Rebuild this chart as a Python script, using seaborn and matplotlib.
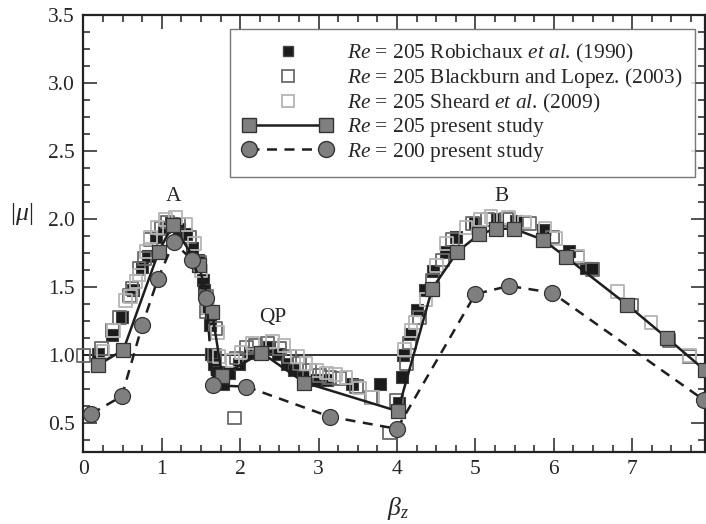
import numpy as np
import matplotlib
matplotlib.use("Agg")
import matplotlib.pyplot as plt
import seaborn as sns
from matplotlib.ticker import MultipleLocator
from matplotlib.legend_handler import HandlerLine2D
from matplotlib.lines import Line2D

# ---------------- data ----------------
rob_x = [0.19,0.37,0.49,0.63,0.75,0.82,0.93,1.03,1.12,1.22,1.31,1.39,1.46,1.52,1.54,1.58,1.61,1.63,1.67,1.72,
         1.77,1.78,1.86,1.99,2.12,2.37,2.48,2.60,2.69,2.80,2.97,3.11,3.43,3.79,4.03,4.07,4.08,4.17,4.26,4.36,
         4.46,4.63,4.75,5.0,5.28,5.52,5.86,6.2,6.41,6.49,6.94,7.44]
rob_y = [1.01,1.15,1.28,1.48,1.65,1.73,1.87,1.94,1.97,1.93,1.89,1.79,1.70,1.55,1.48,1.35,1.22,1.01,0.94,0.88,
         0.80,0.79,0.87,0.94,1.02,1.06,1.01,0.94,0.89,0.84,0.82,0.82,0.79,0.79,0.65,0.84,1.0,1.16,1.33,1.48,
         1.62,1.76,1.87,1.97,2.0,1.99,1.92,1.77,1.64,1.64,1.38,1.13]

bl_x = [0.0,0.23,0.37,0.46,0.59,0.62,0.71,0.78,0.86,1.0,1.07,1.21,1.35,1.48,1.57,1.57,1.69,1.67,1.93,1.95,
        2.08,2.2,2.35,2.5,2.63,2.76,2.88,3.01,3.14,3.27,3.48,3.67,3.9,3.99,4.12,4.16,4.29,4.45,4.58,4.71,
        4.96,5.16,5.4,5.69,5.98,6.3,6.49,6.99,7.47,7.73]
bl_y = [1.0,1.05,1.18,1.28,1.44,1.49,1.64,1.71,1.85,1.93,1.98,1.96,1.87,1.68,1.43,1.32,1.2,1.0,0.54,0.98,
        1.06,1.07,1.09,1.05,0.99,0.94,0.89,0.85,0.84,0.83,0.77,0.69,0.43,0.67,0.94,1.09,1.28,1.55,1.70,1.85,
        1.97,2.0,2.0,1.97,1.87,1.72,1.63,1.37,1.11,0.99]

sh_x = [0.25,0.38,0.54,0.60,0.67,0.71,0.80,0.86,0.94,1.05,1.18,1.31,1.42,1.50,1.59,1.71,1.73,1.90,2.01,2.16,
        2.41,2.56,2.73,2.84,2.97,3.10,3.22,3.35,3.52,3.69,4.10,4.18,4.23,4.37,4.50,4.63,4.88,5.07,5.20,5.42,
        5.63,5.89,6.03,6.30,6.81,7.24,7.73]
sh_y = [1.03,1.18,1.40,1.43,1.54,1.59,1.76,1.87,1.94,2.0,2.01,1.96,1.82,1.62,1.35,1.17,0.99,0.96,1.02,1.09,
        1.10,1.07,0.99,0.94,0.89,0.87,0.86,0.84,0.76,0.69,1.04,1.18,1.24,1.41,1.66,1.82,1.94,2.0,2.02,2.01,
        1.98,1.93,1.86,1.73,1.47,1.24,1.0]

p205_x = [0.19,0.51,0.96,1.14,1.47,1.64,1.77,2.27,2.82,4.01,4.45,4.77,5.05,5.27,5.49,5.86,6.16,6.94,7.44,7.93]
p205_y = [0.93,1.04,1.76,1.96,1.66,1.32,0.85,1.02,0.80,0.59,1.49,1.76,1.89,1.93,1.93,1.85,1.72,1.37,1.13,0.89]

p200_x = [0.10,0.49,0.75,0.95,1.15,1.39,1.57,1.65,2.08,3.14,4.0,5.0,5.43,5.98,7.92]
p200_y = [0.57,0.70,1.22,1.56,1.83,1.70,1.42,0.78,0.77,0.55,0.46,1.45,1.51,1.46,0.67]

labels = [r"$Re$ = 205 Robichaux $et\ al$. (1990)",
          r"$Re$ = 205 Blackburn and Lopez. (2003)",
          r"$Re$ = 205 Sheard $et\ al$. (2009)",
          r"$Re$ = 205 present study",
          r"$Re$ = 200 present study"]
xticks = [0, 1, 2, 3, 4, 5, 6, 7]
yticks = [0.5, 1.0, 1.5, 2.0, 2.5, 3.0, 3.5]

# ---------------- style ----------------
sns.set_style("ticks")
plt.rcParams["font.family"] = ["Liberation Serif", "DejaVu Serif"]
plt.rcParams["mathtext.fontset"] = "custom"
plt.rcParams["mathtext.rm"] = "Liberation Serif"
plt.rcParams["mathtext.it"] = "Liberation Serif:italic"
plt.rcParams["mathtext.bf"] = "Liberation Serif:bold"
FS = 15.4
TFS = 15.5

fig = plt.figure(figsize=(7.06, 5.24), dpi=100)
ax = fig.add_axes([83/706, 1-452/524, 622/706, 437/524])

ax.axhline(1.0, color="#222222", lw=1.3, zorder=1)

sns.scatterplot(x=rob_x, y=rob_y, marker="s", s=70, color="#1b1b1b",
                edgecolor="#444444", linewidth=0.8, ax=ax, zorder=3)
sns.scatterplot(x=bl_x, y=bl_y, marker="s", s=85, facecolors="none",
                edgecolor="#6a6a6a", linewidth=1.3, ax=ax, zorder=3, clip_on=False)
sns.scatterplot(x=sh_x, y=sh_y, marker="s", s=85, facecolors="none",
                edgecolor="#b4b4b4", linewidth=1.3, ax=ax, zorder=3)

sns.lineplot(x=p205_x, y=p205_y, sort=False, estimator=None, color="#1e1e1e", lw=1.8,
             marker="s", markersize=9.5, markerfacecolor="#7f7f7f", markeredgecolor="#333333",
             markeredgewidth=0.9, ax=ax, zorder=4)
sns.lineplot(x=p200_x, y=p200_y, sort=False, estimator=None, color="#1e1e1e", lw=1.8,
             linestyle=(0, (4, 3)),
             marker="o", markersize=11.5, markerfacecolor="#7f7f7f", markeredgecolor="#333333",
             markeredgewidth=0.9, ax=ax, zorder=5)

ax.set_xlim(-0.005, 7.93)
ax.set_ylim(0.29, 3.5)
ax.set_xticks(xticks)
ax.set_yticks(yticks)
ax.set_yticklabels([f"{v:.1f}" for v in yticks])
ax.xaxis.set_minor_locator(MultipleLocator(0.25))
ax.yaxis.set_minor_locator(MultipleLocator(0.125))
ax.tick_params(which="both", direction="in", top=True, right=True, labelsize=TFS, width=1.1, color="#222222")
ax.tick_params(which="major", length=10, pad=6)
ax.tick_params(which="minor", length=5)
for sp in ax.spines.values():
    sp.set_linewidth(1.6)
    sp.set_color("#222222")

ax.text(8, 0.29 - 0.075, "8", ha="center", va="top", fontsize=TFS, clip_on=False)

ax.set_xlabel(r"$\beta_z$", fontsize=TFS + 3)
ax.xaxis.set_label_coords(0.506, -0.098)
ax.set_ylabel(r"$|\mu|$", fontsize=TFS + 3, rotation=0)
ax.yaxis.set_label_coords(-0.098, 0.515)

ax.text(1.15, 2.17, "A", ha="center", va="center", fontsize=FS)
ax.text(5.33, 2.17, "B", ha="center", va="center", fontsize=FS)
ax.text(2.42, 1.28, "QP", ha="center", va="center", fontsize=FS)

h1 = Line2D([], [], ls="none", marker="s", markersize=7.5, markerfacecolor="#1b1b1b", markeredgecolor="#444444")
h2 = Line2D([], [], ls="none", marker="s", markersize=8, markerfacecolor="none", markeredgecolor="#6a6a6a", markeredgewidth=1.3)
h3 = Line2D([], [], ls="none", marker="s", markersize=8, markerfacecolor="none", markeredgecolor="#b4b4b4", markeredgewidth=1.3)
h4 = Line2D([], [], color="#1e1e1e", lw=1.8, marker="s", markersize=9.5,
            markerfacecolor="#7f7f7f", markeredgecolor="#333333")
h5 = Line2D([], [], color="#1e1e1e", lw=1.8, ls=(0, (4, 3)), marker="o", markersize=11.5,
            markerfacecolor="#7f7f7f", markeredgecolor="#333333")
one = HandlerLine2D(numpoints=1)
leg = ax.legend([h1, h2, h3, h4, h5], labels, loc="upper right", bbox_to_anchor=(0.984, 0.968),
                borderaxespad=0, fontsize=FS, frameon=True, fancybox=False, numpoints=2,
                handlelength=4.2, handletextpad=0.65, labelspacing=0.07, borderpad=0.6,
                handler_map={h1: one, h2: one, h3: one})
leg.get_frame().set_edgecolor("#555555")
leg.get_frame().set_linewidth(1.0)
leg.set_zorder(10)

fig.savefig("out.png", dpi=100)
